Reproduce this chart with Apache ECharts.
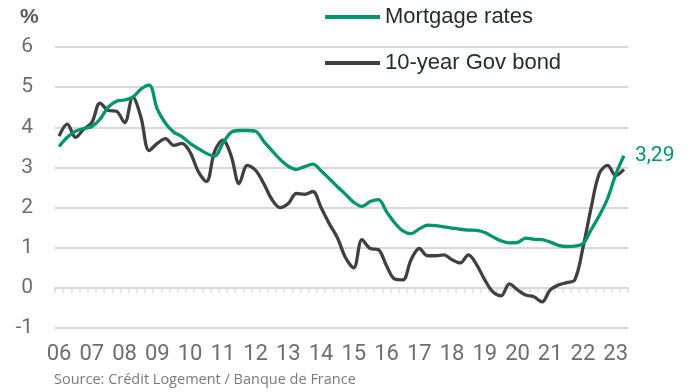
<!DOCTYPE html>
<html>
<head>
<meta charset="utf-8">
<script src="https://cdn.jsdelivr.net/npm/echarts@6/dist/echarts.min.js"></script>
<style>
html,body{margin:0;padding:0;background:#fff;}
#c{width:694px;height:392px;}
</style>
</head>
<body>
<div id="c"></div>
<script>
// Year tick labels (one per year, quarterly categories)
var years = ['06','07','08','09','10','11','12','13','14','15','16','17','18','19','20','21','22','23'];
var quartersInLastYear = 2;

// Quarterly values, 2006Q1 .. 2023Q2
var mortgageRates = [
  3.52, 3.75, 3.90, 3.97, 4.02, 4.20, 4.50, 4.65, 4.68, 4.75,
  4.95, 5.05, 4.45, 4.10, 3.88, 3.77, 3.60, 3.47, 3.35, 3.28,
  3.60, 3.87, 3.92, 3.92, 3.90, 3.65, 3.42, 3.20, 3.03, 2.95,
  3.02, 3.08, 2.92, 2.72, 2.52, 2.33, 2.13, 2.03, 2.15, 2.20,
  1.90, 1.62, 1.42, 1.35, 1.47, 1.56, 1.55, 1.52, 1.49, 1.46,
  1.44, 1.43, 1.38, 1.27, 1.17, 1.12, 1.13, 1.24, 1.21, 1.20,
  1.14, 1.06, 1.03, 1.04, 1.10, 1.45, 1.80, 2.22, 2.82, 3.29
];
var govBond = [
  3.78, 4.08, 3.75, 3.95, 4.12, 4.60, 4.42, 4.40, 4.12, 4.75,
  4.25, 3.42, 3.60, 3.72, 3.55, 3.60, 3.38, 2.90, 2.65, 3.40,
  3.68, 3.30, 2.60, 3.05, 2.93, 2.60, 2.20, 2.00, 2.10, 2.35,
  2.33, 2.40, 2.00, 1.60, 1.25, 0.75, 0.50, 1.20, 0.98, 0.95,
  0.55, 0.22, 0.20, 0.70, 0.98, 0.80, 0.80, 0.82, 0.70, 0.62,
  0.82, 0.58, 0.20, -0.10, -0.20, 0.10, -0.05, -0.18, -0.22, -0.35,
  -0.05, 0.07, 0.13, 0.20, 1.00, 2.00, 2.85, 3.05, 2.80, 2.95
];

var categories = [];
years.forEach(function (y, k) {
  var n = (k === years.length - 1) ? quartersInLastYear : 4;
  for (var q = 1; q <= n; q++) categories.push(y + 'Q' + q);
});

var GREEN = '#00966b';
var DARK = '#404040';
var GRID = '#d9d9d9';
var LABEL = '#6e6e6e';

var chart = echarts.init(document.getElementById('c'), null, {renderer: 'canvas'});
chart.setOption({
  animation: false,
  backgroundColor: '#fff',
  title: [
    {text: '%', left: 20, top: 7, padding: 0,
     textStyle: {fontFamily: 'Liberation Sans', fontWeight: 'bold', fontSize: 21, color: '#595959'}},
    {text: 'Source: Crédit Logement / Banque de France', left: 54, top: 372, padding: 0,
     textStyle: {fontFamily: 'Open Sans', fontWeight: 'normal', fontSize: 14.5, color: '#7a7a7a'}}
  ],
  legend: {
    orient: 'vertical',
    left: 325,
    top: 6,
    padding: 0,
    itemWidth: 55,
    itemHeight: 4,
    itemGap: 24,
    icon: 'rect',
    data: ['Mortgage rates', '10-year Gov bond'],
    textStyle: {fontFamily: 'Liberation Sans', fontSize: 22, color: '#262b33'}
  },
  grid: {left: 55, right: 66, top: 47, bottom: 64, containLabel: false},
  xAxis: [
    {
      type: 'category',
      data: categories,
      boundaryGap: true,
      axisLine: {show: true, onZero: true, lineStyle: {color: GRID, width: 2}},
      axisTick: {show: true, interval: 0, length: 5, lineStyle: {color: GRID, width: 1.5}},
      axisLabel: {show: false},
      splitLine: {show: false}
    },
    {
      type: 'category',
      data: categories,
      boundaryGap: true,
      position: 'bottom',
      axisLine: {show: false, onZero: false},
      axisTick: {show: false},
      axisLabel: {
        interval: 3,
        margin: 15,
        fontFamily: 'Roboto',
        fontSize: 22,
        color: LABEL,
        formatter: function (v) { return v.slice(0, 2); }
      },
      splitLine: {show: false}
    }
  ],
  yAxis: {
    type: 'value',
    min: -1,
    max: 6,
    interval: 1,
    axisLine: {show: false},
    axisTick: {show: false},
    axisLabel: {margin: 22, fontFamily: 'Roboto', fontSize: 21, color: LABEL},
    splitLine: {lineStyle: {color: GRID, width: 2}}
  },
  series: [
    {
      name: '10-year Gov bond',
      type: 'line',
      xAxisIndex: 0,
      data: govBond,
      smooth: 0.35,
      showSymbol: false,
      symbol: 'none',
      color: DARK,
      lineStyle: {color: DARK, width: 3.3}
    },
    {
      name: 'Mortgage rates',
      type: 'line',
      xAxisIndex: 0,
      data: mortgageRates,
      smooth: 0.35,
      showSymbol: false,
      symbol: 'none',
      color: GREEN,
      lineStyle: {color: GREEN, width: 3.3},
      endLabel: {
        show: true,
        distance: 11,
        fontFamily: 'Roboto',
        fontSize: 21,
        color: GREEN,
        formatter: function (p) { return String(p.value).replace('.', ','); }
      }
    }
  ]
});
</script>
</body>
</html>
